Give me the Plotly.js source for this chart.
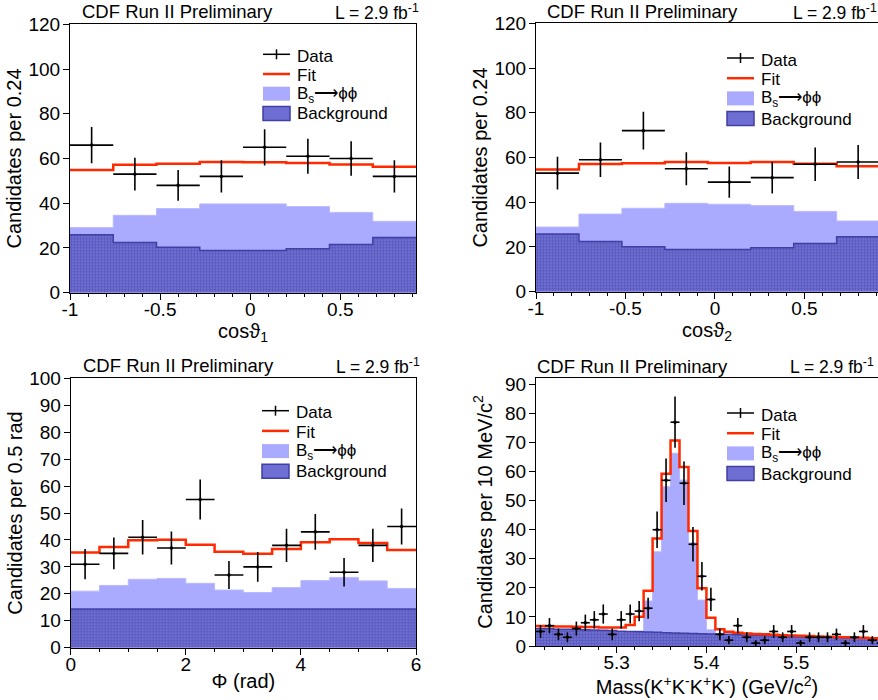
<!DOCTYPE html>
<html><head><meta charset="utf-8">
<script src="https://cdn.plot.ly/plotly-3.0.1.min.js"></script>
<style>html,body{margin:0;padding:0;background:#fff;} #chart{width:878px;height:700px;}</style>
</head><body><div id="chart"></div>
<script>
// ---------------- data ----------------
const cosBinCenters = [-0.88, -0.64, -0.40, -0.16, 0.08, 0.32, 0.56, 0.80];
const cosBinWidth = 0.24;
const cosTickVals = [-1, -0.5, 0, 0.5];
const cosTickText = ['-1', '-0.5', '0', '0.5'];

const cos1Data = [66, 53, 48, 52, 65, 61, 60, 52];
const cos1Err = [8.1, 7.3, 6.9, 7.2, 8.1, 7.8, 7.7, 7.2];
const cos1Fit = [54.9, 57.2, 57.7, 58.4, 58.3, 58.0, 57.3, 56.3];
const cos1Signal = [29.1, 34.6, 37.6, 39.7, 39.7, 38.5, 35.9, 31.9];
const cos1Background = [25.9, 22.5, 20.3, 18.9, 18.9, 19.7, 21.6, 24.7];

const cos2Data = [53, 59, 72, 55, 49, 51, 57, 58];
const cos2Err = [7.3, 7.7, 8.4, 7.4, 7.0, 7.1, 7.5, 7.6];
const cos2Fit = [54.6, 57.1, 57.4, 58.0, 57.5, 58.0, 57.2, 56.1];
const cos2Signal = [28.9, 34.7, 37.3, 39.5, 39.1, 38.5, 35.9, 31.6];
const cos2Background = [25.8, 22.5, 20.1, 18.9, 18.9, 19.7, 21.5, 24.6];

const phiBinCenters = [0.25, 0.75, 1.25, 1.75, 2.25, 2.75, 3.25, 3.75, 4.25, 4.75, 5.25, 5.75];
const phiBinWidth = 0.5;
const phiData = [31, 35, 41, 37, 55, 27, 30, 38, 43, 28, 38, 45];
const phiErr = [5.6, 5.9, 6.4, 6.1, 7.4, 5.2, 5.5, 6.2, 6.6, 5.3, 6.2, 6.7];
const phiFit = [35.3, 37.4, 39.9, 40.1, 38.2, 35.6, 34.9, 36.6, 39.1, 40.3, 38.9, 36.3];
const phiSignal = [21.0, 23.1, 25.4, 25.7, 23.9, 21.4, 20.5, 22.3, 24.9, 26.1, 24.8, 22.0];
const phiBackground = [14.4, 14.4, 14.4, 14.4, 14.4, 14.4, 14.4, 14.4, 14.4, 14.4, 14.4, 14.4];

const massBinCenters = [5.215, 5.225, 5.235, 5.245, 5.255, 5.265, 5.275, 5.285, 5.295, 5.305,
  5.315, 5.325, 5.335, 5.345, 5.355, 5.365, 5.375, 5.385, 5.395, 5.405,
  5.415, 5.425, 5.435, 5.445, 5.455, 5.465, 5.475, 5.485, 5.495, 5.505,
  5.515, 5.525, 5.535, 5.545, 5.555, 5.565, 5.575, 5.585, 5.595];
const massBinWidth = 0.01;
const massData = [5, 7, 4, 3, 6, 8, 9, 11, 4, 9, 11, 12, 13, 40, 57, 77, 56, 35, 24, 16,
  4, 2, 7, 3, 1, 2, 5, 3, 5, 1, 3, 3, 3, 4, 1, 3, 5, 2, 1];
const massErr = [2.2, 2.6, 2.0, 1.7, 2.4, 2.8, 3.0, 3.3, 2.0, 3.0, 3.3, 3.5, 3.6, 6.3, 7.5, 8.8, 7.5, 5.9, 4.9, 4.0,
  2.0, 1.4, 2.6, 1.7, 1.0, 1.4, 2.2, 1.7, 2.2, 1.0, 1.7, 1.7, 1.7, 2.0, 1.0, 1.7, 2.2, 1.4, 1.0];
const massFit = [6.9, 6.8, 6.7, 6.7, 6.6, 6.5, 6.5, 6.4, 6.4, 6.4, 7.2, 10.1, 19.0, 37.0, 59.3, 70.7, 61.6, 39.6, 19.9, 9.7,
  5.8, 4.9, 4.6, 4.3, 4.1, 4.0, 3.9, 3.7, 3.6, 3.5, 3.4, 3.3, 3.2, 3.1, 3.0, 2.9, 2.8, 2.7, 2.6];
const massSignal = [0.8, 0.8, 0.8, 0.9, 0.9, 0.9, 1.0, 1.0, 1.1, 1.3, 2.2, 5.2, 15.5, 32.4, 54.8, 66.3, 57.1, 35.5, 15.8, 5.6,
  1.7, 0.8, 0.5, 0.4, 0.3, 0.3, 0.3, 0.2, 0.2, 0.2, 0.2, 0.2, 0.2, 0.1, 0.1, 0.1, 0.1, 0.1, 0.1];
const massBackground = [6.0, 5.9, 5.8, 5.8, 5.7, 5.6, 5.5, 5.4, 5.3, 5.1, 5.0, 4.9, 4.8, 4.7, 4.6, 4.5, 4.4, 4.3, 4.2, 4.1,
  4.1, 4.0, 3.9, 3.8, 3.7, 3.6, 3.5, 3.4, 3.3, 3.2, 3.2, 3.1, 3.0, 2.9, 2.8, 2.8, 2.7, 2.6, 2.5];

const legendLabels = ['Data', 'Fit', 'B<sub>s</sub>\u27f6\u03d5\u03d5', 'Background'];
const headerLeft = 'CDF Run II Preliminary';
const headerRight = 'L = 2.9 fb<sup>-1</sup>';

// ---------------- style ----------------
const FONT = 'Liberation Sans, Arial, Helvetica, sans-serif';
const W = 878, H = 700;
const C_SIG = '#aaaaff', C_BKG = '#6f6fd3', C_BKG_LINE = '#3f3fa6', C_FIT = '#ff2a00';

function stepXY(centers, width, values) {
  const x = centers.map(c => c - width / 2);
  x.push(centers[centers.length - 1] + width / 2);
  const y = values.slice();
  y.push(values[values.length - 1]);
  return {x, y};
}

const traces = [];
function addPanel(n, centers, width, data, err, fit, sig, bkg) {
  const xa = n === 1 ? 'x' : 'x' + n, ya = n === 1 ? 'y' : 'y' + n;
  const s = stepXY(centers, width, sig);
  traces.push({type: 'scatter', mode: 'lines', x: s.x, y: s.y, xaxis: xa, yaxis: ya,
    line: {shape: 'hv', color: '#b9b9ff', width: 1}, fill: 'tozeroy', fillcolor: C_SIG,
    name: 'Bs\u2192\u03d5\u03d5', showlegend: false, hoverinfo: 'skip'});
  const b = stepXY(centers, width, bkg);
  traces.push({type: 'scatter', mode: 'lines', x: b.x, y: b.y, xaxis: xa, yaxis: ya,
    line: {shape: 'hv', color: C_BKG_LINE, width: 1.5}, fill: 'tozeroy', fillcolor: C_BKG,
    fillpattern: {shape: '.', bgcolor: '#7676d8', fgcolor: '#5656bb', size: 3, solidity: 0.5},
    name: 'Background', showlegend: false, hoverinfo: 'skip'});
  const f = stepXY(centers, width, fit);
  traces.push({type: 'scatter', mode: 'lines', x: f.x, y: f.y, xaxis: xa, yaxis: ya,
    line: {shape: 'hv', color: C_FIT, width: 2.5}, name: 'Fit', showlegend: false, hoverinfo: 'skip'});
  traces.push({type: 'scatter', mode: 'markers', x: centers, y: data, xaxis: xa, yaxis: ya,
    marker: {color: '#000', size: 3.5},
    error_y: {type: 'data', array: err, visible: true, color: '#000', thickness: 1.6, width: 0},
    error_x: {type: 'constant', value: width / 2, visible: true, color: '#000', thickness: 1.6, width: 0},
    name: 'Data', showlegend: false, hoverinfo: 'skip'});
}
addPanel(1, cosBinCenters, cosBinWidth, cos1Data, cos1Err, cos1Fit, cos1Signal, cos1Background);
addPanel(2, cosBinCenters, cosBinWidth, cos2Data, cos2Err, cos2Fit, cos2Signal, cos2Background);
addPanel(3, phiBinCenters, phiBinWidth, phiData, phiErr, phiFit, phiSignal, phiBackground);
addPanel(4, massBinCenters, massBinWidth, massData, massErr, massFit, massSignal, massBackground);

const px = v => v / W, py = v => 1 - v / H;
const tickFont = {family: FONT, size: 19, color: '#000'};
const titleFont = {family: FONT, size: 20, color: '#000'};
function xAxis(domain, range, dtick, tick0, minor, title, anchor, standoff, tickvals, ticktext) {
  const ax = {domain, range, dtick, tick0, tickmode: 'linear', anchor,
    ticks: 'outside', ticklen: 6, tickwidth: 1, tickcolor: '#000', ticklabelstandoff: -7,
    minor: {dtick: minor, tick0: tick0, ticks: 'outside', ticklen: 3, tickcolor: '#000', showgrid: false},
    showline: true, linecolor: '#000', linewidth: 1, mirror: true,
    showgrid: false, zeroline: false, tickfont: tickFont,
    title: {text: title, font: titleFont, standoff: standoff}, automargin: false, fixedrange: true};
  if (tickvals) { ax.tickmode = 'array'; ax.tickvals = tickvals; ax.ticktext = ticktext; }
  return ax;
}
function yAxis(domain, range, dtick, title, anchor, mirror, standoff) {
  return {domain, range, dtick, tick0: 0, tickmode: 'linear', anchor,
    ticks: 'outside', ticklen: 6, tickwidth: 1, tickcolor: '#000', ticklabelstandoff: -1,
    showline: true, linecolor: '#000', linewidth: 1, mirror: mirror,
    showgrid: false, zeroline: false, tickfont: tickFont,
    title: {text: title, font: titleFont, standoff: standoff}, automargin: false, fixedrange: true};
}

const layout = {
  width: W, height: H, margin: {l: 0, r: 0, t: 0, b: 0},
  paper_bgcolor: '#fff', plot_bgcolor: '#fff', showlegend: false,
  font: {family: FONT, color: '#000'},
  xaxis: xAxis([px(70), px(416)], [-1, 0.92], 0.5, -1, 0.1, 'cos\u03d1<sub>1</sub>', 'y', 0, cosTickVals, cosTickText),
  yaxis: yAxis([py(292.7), py(24.3)], [0, 120], 20, 'Candidates per 0.24', 'x', true, 1),
  xaxis2: xAxis([px(536), 1], [-1, 0.911], 0.5, -1, 0.1, 'cos\u03d1<sub>2</sub>', 'y2', 0, cosTickVals, cosTickText),
  yaxis2: yAxis([py(291.7), py(23.3)], [0, 120], 20, 'Candidates per 0.24', 'x2', false, 1),
  xaxis3: xAxis([px(70.7), px(416)], [0, 6], 2, 0, 0.5, '\u03a6 (rad)', 'y3', 0),
  yaxis3: yAxis([py(647.7), py(378.3)], [0, 100], 10, 'Candidates per 0.5 rad', 'x3', true, 1),
  xaxis4: xAxis([px(536), 1], [5.21, 5.5913], 0.1, 5.3, 0.02,
    'Mass(K<sup>+</sup>K<sup>-</sup>K<sup>+</sup>K<sup>-</sup>) (GeV/c<sup>2</sup>)', 'y4', 0),
  yaxis4: yAxis([py(646), py(378)], [0, 92.2], 10, 'Candidates per 10 MeV/c<sup>2</sup>', 'x4', false, 7),
  shapes: [], annotations: []
};

// headers
const headers = [
  {cx: 177, lx: 333, y: 12},
  {cx: 642, lx: 791, y: 12},
  {cx: 178.5, lx: 334, y: 365.5},
  {cx: 632.5, lx: 788, y: 366}
];
headers.forEach(h => {
  layout.annotations.push({xref: 'paper', yref: 'paper', x: px(h.cx), y: py(h.y), xanchor: 'center', yanchor: 'middle',
    text: headerLeft, showarrow: false, font: {family: FONT, size: 18.5, color: '#000'}});
  layout.annotations.push({xref: 'paper', yref: 'paper', x: px(h.lx), y: py(h.y), xanchor: 'left', yanchor: 'middle',
    text: headerRight, showarrow: false, font: {family: FONT, size: 17.5, color: '#000'}});
});

// legends (drawn as a key box per panel)
const legends = [
  {sx: 263, y0: 56.3, step: 19.2},
  {sx: 727, y0: 60, step: 19.7},
  {sx: 262, y0: 412.7, step: 19.7},
  {sx: 727, y0: 415, step: 19.7}
];
legends.forEach(L => {
  const ys = [0, 1, 2, 3].map(i => L.y0 + i * L.step);
  const sw = 27;
  layout.shapes.push({type: 'line', xref: 'paper', yref: 'paper', x0: px(L.sx), x1: px(L.sx + sw), y0: py(ys[0] - 2), y1: py(ys[0] - 2), line: {color: '#000', width: 1.5}});
  layout.shapes.push({type: 'line', xref: 'paper', yref: 'paper', x0: px(L.sx + sw / 2), x1: px(L.sx + sw / 2), y0: py(ys[0] - 7), y1: py(ys[0] + 3), line: {color: '#000', width: 1.5}});
  layout.shapes.push({type: 'line', xref: 'paper', yref: 'paper', x0: px(L.sx), x1: px(L.sx + sw), y0: py(ys[1] - 1.5), y1: py(ys[1] - 1.5), line: {color: C_FIT, width: 2.5}});
  layout.shapes.push({type: 'rect', xref: 'paper', yref: 'paper', x0: px(L.sx), x1: px(L.sx + sw), y0: py(ys[2] + 6), y1: py(ys[2] - 8), fillcolor: C_SIG, line: {width: 0}});
  layout.shapes.push({type: 'rect', xref: 'paper', yref: 'paper', x0: px(L.sx), x1: px(L.sx + sw), y0: py(ys[3] + 6.5), y1: py(ys[3] - 7.5), fillcolor: C_BKG, line: {color: C_BKG_LINE, width: 1.5}});
  legendLabels.forEach((t, i) => {
    layout.annotations.push({xref: 'paper', yref: 'paper', x: px(L.sx + 32), y: py(ys[i]), xanchor: 'left', yanchor: 'middle',
      text: t, showarrow: false, font: {family: FONT, size: 17, color: '#000'}});
  });
});

Plotly.newPlot('chart', traces, layout, {displayModeBar: false, staticPlot: true});
</script>
</body></html>
